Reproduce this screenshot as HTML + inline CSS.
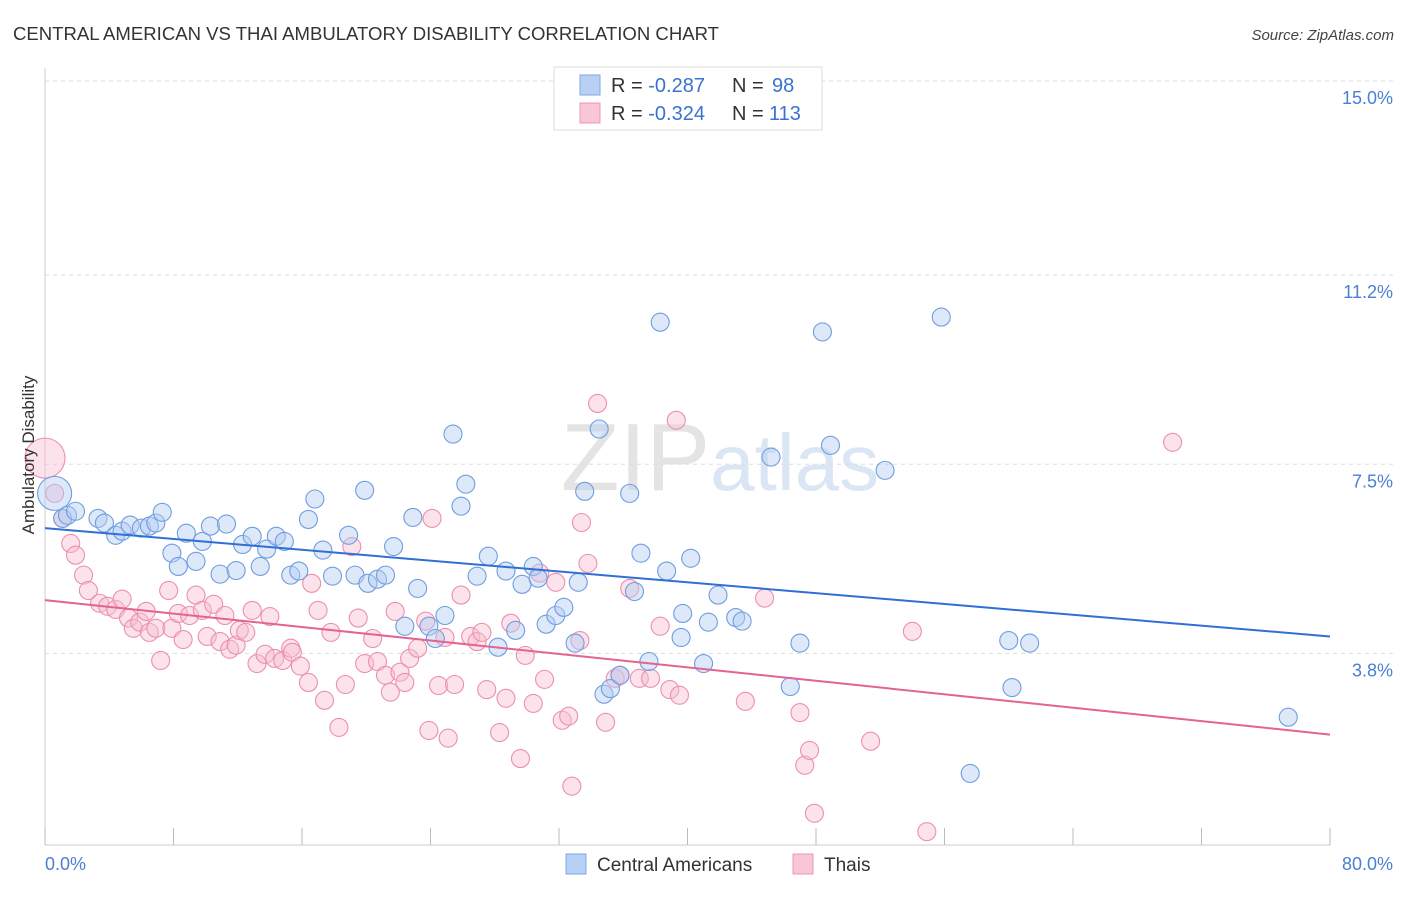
<!DOCTYPE html>
<html><head><meta charset="utf-8"><style>
body{margin:0;background:#fff;font-family:"Liberation Sans",sans-serif;}
svg text{font-family:"Liberation Sans",sans-serif;}
</style></head><body>
<svg id="chart" width="1406" height="892" xmlns="http://www.w3.org/2000/svg">
<text x="13" y="40" font-size="18" fill="#333" textLength="706" lengthAdjust="spacingAndGlyphs">CENTRAL AMERICAN VS THAI AMBULATORY DISABILITY CORRELATION CHART</text>
<text x="1394" y="40" font-size="15" fill="#444" text-anchor="end" font-style="italic">Source: ZipAtlas.com</text>
<text x="720" y="490" font-size="96" fill="#e4e4e4" text-anchor="middle" font-family="Liberation Serif">ZIP<tspan fill="#dbe6f5" font-family="Liberation Sans" font-size="80">atlas</tspan></text>
<g id="grid"></g>
<g id="axes"></g>
<g id="pts"></g>
<g id="lines"></g>
<text transform="translate(34,455) rotate(-90)" font-size="17" fill="#333" text-anchor="middle">Ambulatory Disability</text>
<text x="45" y="870" font-size="18" fill="#4a7fd4">0.0%</text>
<text x="1393" y="870" font-size="18" fill="#4a7fd4" text-anchor="end">80.0%</text>
<g>
<rect x="554" y="67" width="268" height="63" fill="#fff" stroke="#ddd"/>
<rect x="580" y="75" width="20" height="20" fill="#b8d0f3" stroke="#7ea7e6"/>
<rect x="580" y="103" width="20" height="20" fill="#f8c6d6" stroke="#ee97b4"/>
<text x="611" y="92" font-size="20" fill="#333">R = <tspan fill="#3a72d0">-0.287</tspan></text>
<text x="732" y="92" font-size="20" fill="#333">N = </text>
<text x="772" y="92" font-size="20" fill="#3a72d0">98</text>
<text x="611" y="120" font-size="20" fill="#333">R = <tspan fill="#3a72d0">-0.324</tspan></text>
<text x="732" y="120" font-size="20" fill="#333">N = </text>
<text x="769" y="120" font-size="20" fill="#3a72d0">113</text>
</g>
<g>
<rect x="566" y="854" width="20" height="20" fill="#b8d0f3" stroke="#7ea7e6"/>
<text x="597" y="871" font-size="19" fill="#333">Central Americans</text></g>
<g>
<rect x="793" y="854" width="20" height="20" fill="#f8c6d6" stroke="#ee97b4"/>
<text x="824" y="871" font-size="19" fill="#333">Thais</text></g>
</svg>
<script>
const yTicks=[15.0,11.2,7.5,3.8];
const yTickLabels=["15.0%","11.2%","7.5%","3.8%"];
const xTicks=[0,8,16,24,32,40,48,56,64,72,80];
const blueX=[0.6,1.1,1.4,1.9,3.3,3.7,4.4,4.8,5.3,6.0,6.5,6.9,7.3,7.9,8.3,8.8,9.4,9.8,10.3,10.9,11.3,11.9,12.3,12.9,13.4,13.8,14.4,14.9,15.3,15.8,16.4,16.8,17.3,17.9,18.9,19.3,19.9,20.1,20.7,21.2,21.7,22.4,22.9,23.2,23.9,24.3,24.9,25.4,25.9,26.2,26.9,27.6,28.2,28.7,29.3,29.7,30.4,30.7,31.2,31.8,32.3,33.0,33.2,33.6,34.5,34.8,35.2,35.8,36.4,36.7,37.1,37.6,38.3,38.7,39.6,39.7,40.2,41.0,41.3,41.9,43.0,43.4,45.2,46.4,47.0,48.4,48.9,52.3,55.8,57.6,60.0,60.2,61.3,77.4];
const blueY=[6.93,6.44,6.50,6.58,6.44,6.35,6.11,6.19,6.31,6.25,6.29,6.35,6.56,5.76,5.50,6.15,5.60,5.99,6.29,5.35,6.33,5.42,5.93,6.09,5.50,5.84,6.09,5.99,5.33,5.41,6.42,6.82,5.82,5.31,6.11,5.33,6.99,5.17,5.25,5.33,5.89,4.33,6.46,5.07,4.33,4.09,4.54,8.09,6.68,7.11,5.31,5.70,3.92,5.41,4.25,5.15,5.50,5.27,4.37,4.54,4.70,4.00,5.19,6.97,8.19,3.00,3.11,3.37,6.93,5.01,5.76,3.64,10.28,5.41,4.11,4.58,5.66,3.60,4.41,4.94,4.50,4.43,7.64,3.15,4.00,10.09,7.87,7.38,10.38,1.45,4.05,3.13,4.00,2.55];
const pinkX=[0.0,0.6,1.1,1.6,1.9,2.4,2.7,3.4,3.9,4.4,4.8,5.2,5.5,5.9,6.3,6.5,6.9,7.2,7.7,7.9,8.3,8.6,9.0,9.4,9.8,10.1,10.5,10.9,11.2,11.5,11.9,12.1,12.5,12.9,13.2,13.7,14.0,14.3,14.8,15.3,15.4,15.9,16.4,16.6,17.0,17.4,17.8,18.3,18.7,19.1,19.5,19.9,20.4,20.7,21.2,21.5,21.8,22.1,22.4,22.7,23.2,23.7,23.9,24.1,24.5,24.9,25.1,25.5,25.9,26.5,26.9,27.2,27.5,28.3,28.7,29.0,29.6,29.9,30.4,30.8,31.1,31.8,32.2,32.6,32.8,33.3,33.4,33.8,34.4,34.9,35.5,35.8,36.4,37.0,37.7,38.3,38.9,39.3,39.5,43.6,44.8,47.0,47.3,47.6,47.9,51.4,54.0,54.9,70.2];
const pinkY=[7.62,6.93,6.44,5.95,5.72,5.33,5.03,4.78,4.72,4.66,4.86,4.49,4.29,4.41,4.62,4.21,4.29,3.66,5.03,4.29,4.58,4.07,4.54,4.94,4.64,4.13,4.76,4.03,4.54,3.88,3.96,4.25,4.21,4.64,3.60,3.78,4.52,3.70,3.66,3.90,3.82,3.55,3.23,5.17,4.64,2.88,4.21,2.35,3.19,5.89,4.49,3.60,4.09,3.64,3.37,3.04,4.62,3.43,3.23,3.70,3.90,4.43,2.29,6.44,3.17,4.11,2.14,3.19,4.94,4.13,4.03,4.21,3.09,2.25,2.92,4.39,1.74,3.76,2.82,5.37,3.29,5.19,2.49,2.57,1.20,4.05,6.36,5.56,8.69,2.45,3.31,3.37,5.07,3.31,3.31,4.33,3.09,8.36,2.98,2.86,4.88,2.64,1.61,1.90,0.67,2.08,4.23,0.31,7.93];
const trendBlue=[6.25,4.13];
const trendPink=[4.84,2.21];
const NS="http://www.w3.org/2000/svg";
const X0=45,X1=1330,Y15=81;
const xs=v=>X0+(v/80)*(X1-X0);
const ys=v=>Y15+(15-v)*51.1;
function mk(tag,attrs,parent){const e=document.createElementNS(NS,tag);for(const k in attrs)e.setAttribute(k,attrs[k]);parent.appendChild(e);return e;}
const grid=document.getElementById('grid'),axes=document.getElementById('axes'),pts=document.getElementById('pts'),lines=document.getElementById('lines');
yTicks.forEach((t,i)=>{
 const l=mk('line',{x1:45,x2:1395,y1:ys(t),y2:ys(t),stroke:'#ddd','stroke-dasharray':'4,4'},grid);
 
 
 const tx=mk('text',{x:1393,y:ys(t)+23,'font-size':18,fill:'#4a7fd4','text-anchor':'end'},grid);
 tx.textContent=yTickLabels[i];
 
 
});
const ya=mk('line',{x1:45,x2:45,y1:68,y2:845,stroke:'#ccc'},axes);


const xa=mk('line',{x1:45,x2:1330,y1:845,y2:845,stroke:'#ccc'},axes);


xTicks.forEach(t=>{
 const l=mk('line',{x1:xs(t),x2:xs(t),y1:828,y2:845,stroke:'#bbb'},axes);
 
 
});
function dots(X,Y,fill,stroke,name){
 X.forEach((x,i)=>{
  const r=(i===0)?(name==='thai-point'?20:17):9;
  const c=mk('circle',{cx:xs(x),cy:ys(Y[i]),r:r,fill:fill,'fill-opacity':0.45,stroke:stroke,'stroke-width':1.1},pts);
  
  
 });
}
dots(pinkX,pinkY,'#f7bfd2','#ec8fae','thai-point');
dots(blueX,blueY,'#b3cdf2','#6f9de0','central-american-point');
const lb=mk('line',{x1:xs(0),y1:ys(trendBlue[0]),x2:xs(80),y2:ys(trendBlue[1]),stroke:'#2f6fd6','stroke-width':2},lines);


const lp=mk('line',{x1:xs(0),y1:ys(trendPink[0]),x2:xs(80),y2:ys(trendPink[1]),stroke:'#e4638f','stroke-width':2},lines);


</script>
</body></html>
